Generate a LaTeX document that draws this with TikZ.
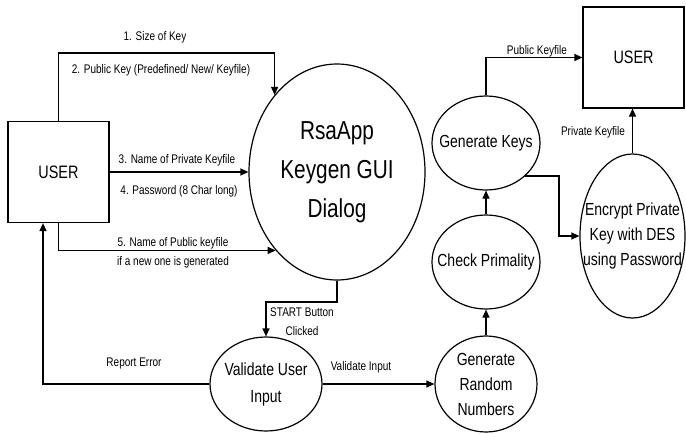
\documentclass[tikz,border=0pt]{standalone}
\usepackage{fontspec}
\setmainfont{Liberation Sans}[FakeStretch=0.8]
\usetikzlibrary{shapes.geometric,arrows.meta}
\begin{document}
\begin{tikzpicture}[x=1pt,y=-1pt,
  line width=1.2pt,
  flow/.style={-{Triangle[length=8pt,width=7pt]}},
  ent/.style={draw, rectangle, minimum width=101pt, minimum height=101pt, inner sep=0pt, font=\fontsize{18}{22}\selectfont},
  proc/.style={draw, ellipse, inner sep=0pt},
  ptext/.style={align=center, inner sep=0pt, font=\fontsize{17.5}{25}\selectfont},
  lbl/.style={font=\fontsize{12.5}{15}\selectfont, inner sep=0pt},
]
\fill[white] (0,0) rectangle (686,434);
\useasboundingbox (0,0) rectangle (686,434);

% entities
\node[ent] (user1) at (58.5,172) {USER};
\node[ent] (user2) at (633.5,57.5) {USER};

% processes
\node[proc, minimum width=176pt, minimum height=216pt,
  label={[ptext, font=\fontsize{26}{39}\selectfont]center:RsaApp\\Keygen GUI\\Dialog}] (rsa) at (337,172) {};
\node[proc, minimum width=112pt, minimum height=94pt,
  label={[ptext, font=\fontsize{17.5}{27}\selectfont]center:Validate User\\Input}] (validate) at (266,384) {};
\node[proc, minimum width=102pt, minimum height=96pt,
  label={[ptext]center:Generate\\Random\\Numbers}] (random) at (486,384) {};
\node[proc, minimum width=108pt, minimum height=94pt,
  label={[ptext]center:Check Primality}] (prime) at (486,262) {};
\node[proc, minimum width=108pt, minimum height=94pt,
  label={[ptext]center:Generate Keys}] (keys) at (486,143) {};
\node[proc, minimum width=105pt, minimum height=164pt,
  label={[ptext]center:Encrypt Private\\Key with DES\\using Password}] (encrypt) at (632.5,236) {};

% helper coordinates
\coordinate (c1) at (rsa.129 |- 0,53);
\coordinate (c2) at (rsa.south |- 0,302);
\coordinate (c3) at ([xshift=-15.5pt]user1.south);
\coordinate (c4) at (559,0 |- encrypt.west);

% connectors
\draw[flow] (user1.north) |- (c1) -- (rsa.129);
\draw[flow] (user1.east) -- (rsa.west);
\draw[flow] (user1.south) |- (rsa.232);
\draw[flow] (rsa.south) -- (c2) -| (validate.north);
\draw[flow] (validate.west) -| (c3);
\draw[flow] (validate.east) -- (random.west);
\draw[flow] (random.north) -- (prime.south);
\draw[flow] (prime.north) -- (keys.south);
\draw[flow] (keys.north) |- (user2.west);
\draw[flow] (keys.-40) -| (c4) -- (encrypt.west);
\draw[flow] (encrypt.north) -- (encrypt.north |- user2.south);

% labels
\node[lbl] (l1) at (155,37) {1. Size of Key};
\node[lbl] (l2) at (161,70) {2. Public Key (Predefined/ New/ Keyfile)};
\node[lbl] (l3) at (177,160) {3. Name of Private Keyfile};
\node[lbl] (l4) at (179,191) {4. Password (8 Char long)};
\node[lbl] (l5) at (173,243) {5. Name of Public keyfile};
\node[lbl] (l6) at (173,262) {if a new one is generated};
\node[lbl, align=center, font=\fontsize{12.5}{19}\selectfont] (l7) at (302,322) {START Button\\Clicked};
\node[lbl] (l8) at (134,363) {Report Error};
\node[lbl] (l9) at (361,367) {Validate Input};
\node[lbl] (l10) at (537,51) {Public Keyfile};
\node[lbl] (l11) at (593,132) {Private Keyfile};
\end{tikzpicture}
\end{document}
